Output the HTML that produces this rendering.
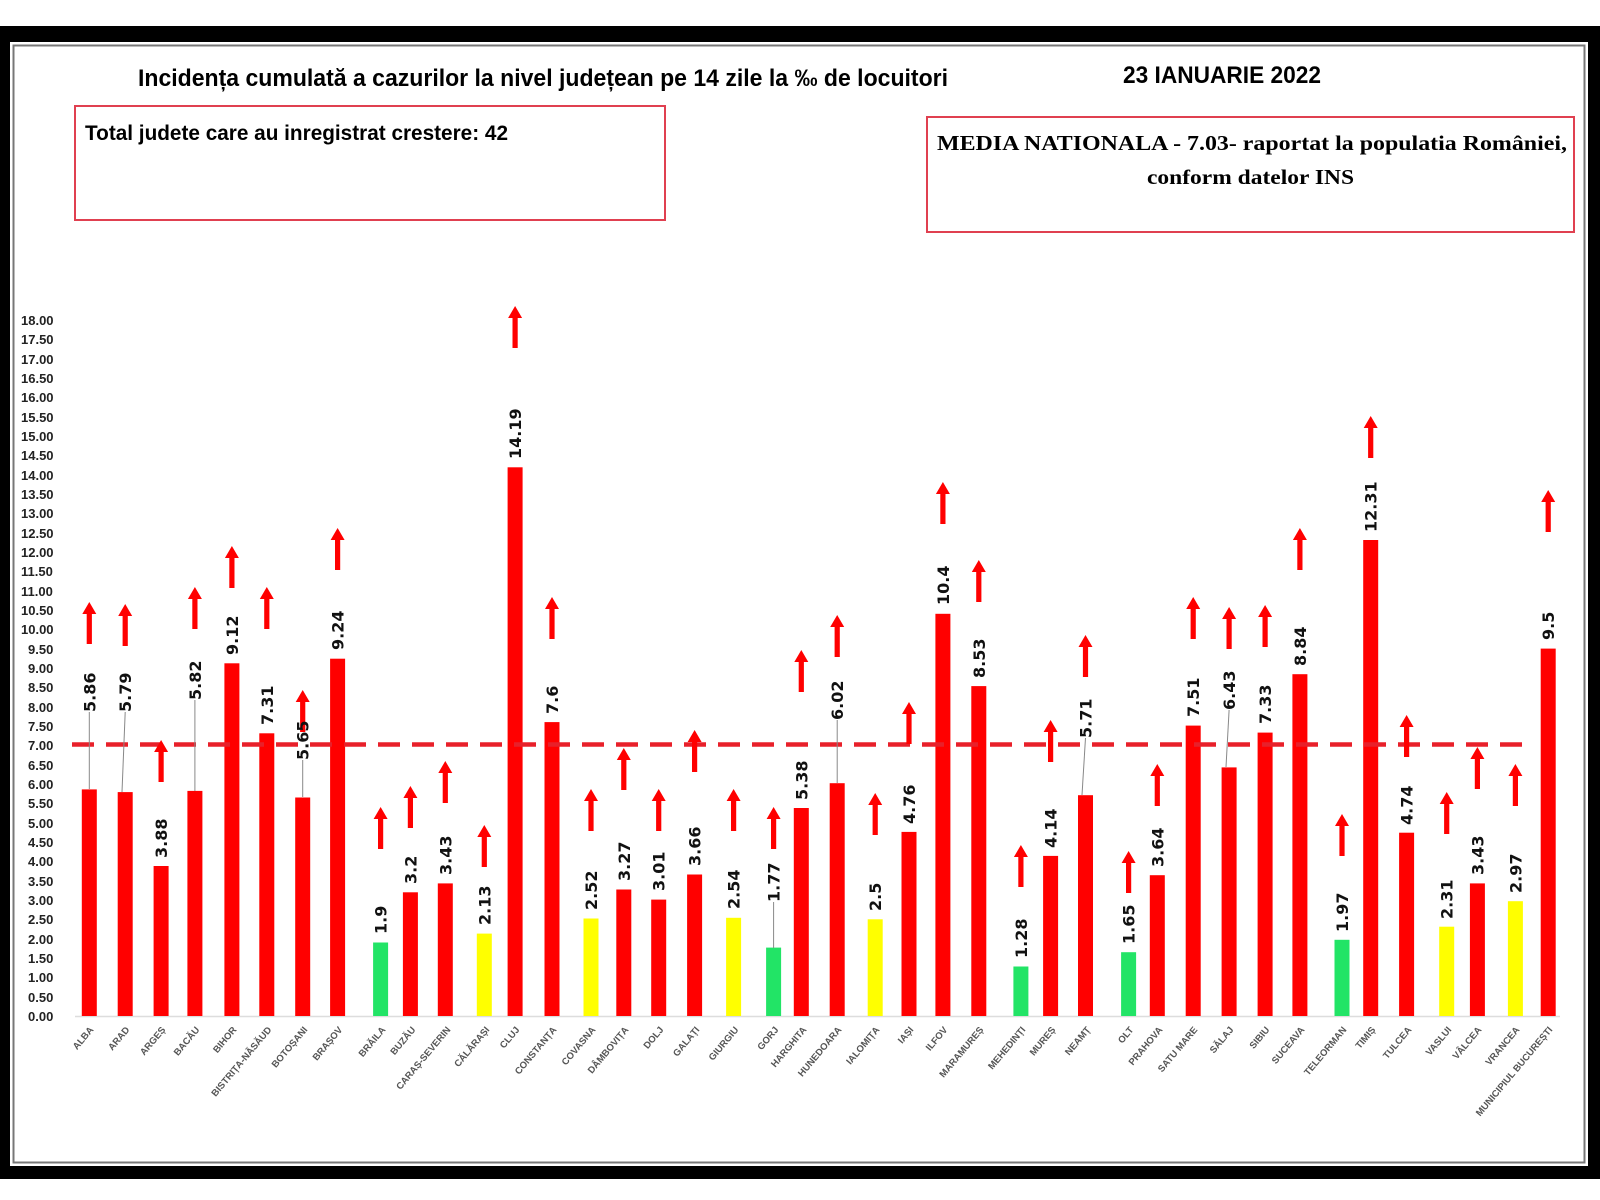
<!DOCTYPE html>
<html><head><meta charset="utf-8"><style>
html,body{margin:0;padding:0;background:#fff;}
svg{display:block;}
.t{font-family:"Liberation Sans",sans-serif;font-weight:bold;}
.v{font-family:"DejaVu Sans","Liberation Sans",sans-serif;font-weight:bold;font-size:16px;fill:#111;}
.y{font-family:"Liberation Sans",sans-serif;font-weight:bold;font-size:13px;fill:#222;}
.x{font-family:"Liberation Sans",sans-serif;font-weight:bold;font-size:9.5px;fill:#555;}
</style></head><body>
<svg width="1600" height="1200" viewBox="0 0 1600 1200" xmlns="http://www.w3.org/2000/svg">
<defs><path id="ar" d="M0,0 L7,12 L2.6,12 L2.6,42 L-2.6,42 L-2.6,12 L-7,12Z" fill="#ff0000"/></defs>
<rect x="0" y="0" width="1600" height="1200" fill="#fff"/>
<rect x="0" y="26" width="1600" height="1153" fill="#000"/>
<rect x="10" y="42" width="1578" height="1124" fill="#fff"/>
<rect x="13.5" y="45.5" width="1571" height="1117" fill="none" stroke="#777" stroke-width="2"/>
<rect x="17" y="48" width="1565" height="1112" fill="#fff"/>

<text class="t" x="138" y="86" font-size="24" textLength="810" lengthAdjust="spacingAndGlyphs">Incidența cumulată a cazurilor la nivel județean pe 14 zile la ‰ de locuitori</text>
<text class="t" x="1123" y="83" font-size="24" textLength="198" lengthAdjust="spacingAndGlyphs">23 IANUARIE 2022</text>

<rect x="75" y="106" width="590" height="114" fill="none" stroke="#e04050" stroke-width="2"/>
<text class="t" x="85" y="140" font-size="21" textLength="423" lengthAdjust="spacingAndGlyphs">Total judete care au inregistrat crestere: 42</text>
<rect x="927" y="117" width="647" height="115" fill="none" stroke="#e04050" stroke-width="2"/>
<text x="937" y="150" font-family="Liberation Serif,serif" font-weight="bold" font-size="21" textLength="630" lengthAdjust="spacingAndGlyphs">MEDIA NATIONALA - 7.03-  raportat la populatia României,</text>
<text x="1147" y="184" font-family="Liberation Serif,serif" font-weight="bold" font-size="21" textLength="207" lengthAdjust="spacingAndGlyphs">conform datelor INS</text>

<g class="y">
<text x="21" y="325">18.00</text><text x="21" y="344">17.50</text><text x="21" y="364">17.00</text><text x="21" y="383">16.50</text><text x="21" y="402">16.00</text><text x="21" y="422">15.50</text><text x="21" y="441">15.00</text><text x="21" y="460">14.50</text><text x="21" y="480">14.00</text><text x="21" y="499">13.50</text><text x="21" y="518">13.00</text><text x="21" y="538">12.50</text><text x="21" y="557">12.00</text><text x="21" y="576">11.50</text><text x="21" y="596">11.00</text><text x="21" y="615">10.50</text><text x="21" y="634">10.00</text><text x="28" y="654">9.50</text><text x="28" y="673">9.00</text><text x="28" y="692">8.50</text><text x="28" y="712">8.00</text><text x="28" y="731">7.50</text><text x="28" y="750">7.00</text><text x="28" y="770">6.50</text><text x="28" y="789">6.00</text><text x="28" y="808">5.50</text><text x="28" y="828">5.00</text><text x="28" y="847">4.50</text><text x="28" y="866">4.00</text><text x="28" y="886">3.50</text><text x="28" y="905">3.00</text><text x="28" y="924">2.50</text><text x="28" y="944">2.00</text><text x="28" y="963">1.50</text><text x="28" y="982">1.00</text><text x="28" y="1002">0.50</text><text x="28" y="1021">0.00</text>
</g>
<line x1="75" y1="1016.5" x2="1560" y2="1016.5" stroke="#ddd" stroke-width="1.5"/>

<g>
<rect x="81.8" y="789.4" width="15" height="226.6" fill="#f00"/>
<rect x="117.7" y="792.1" width="15" height="223.9" fill="#f00"/>
<rect x="153.6" y="866" width="15" height="150" fill="#f00"/>
<rect x="187.4" y="790.9" width="15" height="225.1" fill="#f00"/>
<rect x="224.4" y="663.3" width="15" height="352.7" fill="#f00"/>
<rect x="259.3" y="733.3" width="15" height="282.7" fill="#f00"/>
<rect x="295.2" y="797.5" width="15" height="218.5" fill="#f00"/>
<rect x="330.1" y="658.7" width="15" height="357.3" fill="#f00"/>
<rect x="373.1" y="942.5" width="15" height="73.5" fill="#22e466"/>
<rect x="402.9" y="892.3" width="15" height="123.7" fill="#f00"/>
<rect x="437.8" y="883.4" width="15" height="132.6" fill="#f00"/>
<rect x="476.8" y="933.6" width="15" height="82.4" fill="#ffff00"/>
<rect x="507.6" y="467.3" width="15" height="548.7" fill="#f00"/>
<rect x="544.5" y="722.1" width="15" height="293.9" fill="#f00"/>
<rect x="583.5" y="918.5" width="15" height="97.5" fill="#ffff00"/>
<rect x="616.3" y="889.5" width="15" height="126.5" fill="#f00"/>
<rect x="651.2" y="899.6" width="15" height="116.4" fill="#f00"/>
<rect x="687.1" y="874.5" width="15" height="141.5" fill="#f00"/>
<rect x="726.1" y="917.8" width="15" height="98.2" fill="#ffff00"/>
<rect x="766.1" y="947.6" width="15" height="68.4" fill="#22e466"/>
<rect x="793.8" y="808" width="15" height="208" fill="#f00"/>
<rect x="829.7" y="783.2" width="15" height="232.8" fill="#f00"/>
<rect x="867.7" y="919.3" width="15" height="96.7" fill="#ffff00"/>
<rect x="901.5" y="831.9" width="15" height="184.1" fill="#f00"/>
<rect x="935.4" y="613.8" width="15" height="402.2" fill="#f00"/>
<rect x="971.3" y="686.1" width="15" height="329.9" fill="#f00"/>
<rect x="1013.4" y="966.5" width="15" height="49.5" fill="#22e466"/>
<rect x="1043.1" y="855.9" width="15" height="160.1" fill="#f00"/>
<rect x="1078" y="795.2" width="15" height="220.8" fill="#f00"/>
<rect x="1121.1" y="952.2" width="15" height="63.8" fill="#22e466"/>
<rect x="1149.8" y="875.2" width="15" height="140.8" fill="#f00"/>
<rect x="1185.7" y="725.6" width="15" height="290.4" fill="#f00"/>
<rect x="1221.6" y="767.4" width="15" height="248.6" fill="#f00"/>
<rect x="1257.6" y="732.6" width="15" height="283.4" fill="#f00"/>
<rect x="1292.4" y="674.2" width="15" height="341.8" fill="#f00"/>
<rect x="1334.5" y="939.8" width="15" height="76.2" fill="#22e466"/>
<rect x="1363.2" y="540" width="15" height="476" fill="#f00"/>
<rect x="1399.1" y="832.7" width="15" height="183.3" fill="#f00"/>
<rect x="1439.2" y="926.7" width="15" height="89.3" fill="#ffff00"/>
<rect x="1469.9" y="883.4" width="15" height="132.6" fill="#f00"/>
<rect x="1507.9" y="901.2" width="15" height="114.8" fill="#ffff00"/>
<rect x="1540.7" y="648.6" width="15" height="367.4" fill="#f00"/>
</g>

<line x1="72" y1="744.5" x2="1534" y2="744.5" stroke="#e8202a" stroke-width="4.5" stroke-dasharray="22,12"/>

<g>
<use href="#ar" x="89.3" y="602"/><use href="#ar" x="125.2" y="604"/><use href="#ar" x="161.1" y="740"/><use href="#ar" x="194.9" y="587"/><use href="#ar" x="231.9" y="546"/><use href="#ar" x="266.8" y="587"/><use href="#ar" x="302.7" y="690"/><use href="#ar" x="337.6" y="528"/><use href="#ar" x="380.6" y="807"/><use href="#ar" x="410.4" y="786"/><use href="#ar" x="445.3" y="761"/><use href="#ar" x="484.3" y="825"/><use href="#ar" x="515.1" y="306"/><use href="#ar" x="552" y="597"/><use href="#ar" x="591" y="789"/><use href="#ar" x="623.8" y="748"/><use href="#ar" x="658.7" y="789"/><use href="#ar" x="694.6" y="730"/><use href="#ar" x="733.6" y="789"/><use href="#ar" x="773.6" y="807"/><use href="#ar" x="801.3" y="650"/><use href="#ar" x="837.2" y="615"/><use href="#ar" x="875.2" y="793"/><use href="#ar" x="909" y="702"/><use href="#ar" x="942.9" y="482"/><use href="#ar" x="978.8" y="560"/><use href="#ar" x="1020.9" y="845"/><use href="#ar" x="1050.6" y="720"/><use href="#ar" x="1085.5" y="635"/><use href="#ar" x="1128.6" y="851"/><use href="#ar" x="1157.3" y="764"/><use href="#ar" x="1193.2" y="597"/><use href="#ar" x="1229.1" y="607"/><use href="#ar" x="1265.1" y="605"/><use href="#ar" x="1299.9" y="528"/><use href="#ar" x="1342" y="814"/><use href="#ar" x="1370.7" y="416"/><use href="#ar" x="1406.6" y="715"/><use href="#ar" x="1446.7" y="792"/><use href="#ar" x="1477.4" y="747"/><use href="#ar" x="1515.4" y="764"/><use href="#ar" x="1548.2" y="490"/>
</g>

<g stroke="#888" stroke-width="1">
<line x1="89.3" y1="712" x2="89.3" y2="789"/><line x1="125.2" y1="712" x2="122" y2="792"/><line x1="194.9" y1="700" x2="194.9" y2="791"/><line x1="302.7" y1="760" x2="302.7" y2="797"/><line x1="773.6" y1="902" x2="773.6" y2="948"/><line x1="837.2" y1="720" x2="837.2" y2="783"/><line x1="1085.5" y1="738" x2="1082" y2="795"/><line x1="1229.1" y1="710" x2="1226" y2="767"/>
</g>

<g class="v">
<text transform="translate(95.3,712) rotate(-90)">5.86</text>
<text transform="translate(131.2,712) rotate(-90)">5.79</text>
<text transform="translate(167.1,858) rotate(-90)">3.88</text>
<text transform="translate(200.9,700) rotate(-90)">5.82</text>
<text transform="translate(237.9,655) rotate(-90)">9.12</text>
<text transform="translate(272.8,725) rotate(-90)">7.31</text>
<text transform="translate(308.7,760) rotate(-90)">5.65</text>
<text transform="translate(343.6,650) rotate(-90)">9.24</text>
<text transform="translate(386.6,934) rotate(-90)">1.9</text>
<text transform="translate(416.4,884) rotate(-90)">3.2</text>
<text transform="translate(451.3,875) rotate(-90)">3.43</text>
<text transform="translate(490.3,925) rotate(-90)">2.13</text>
<text transform="translate(521.1,459) rotate(-90)">14.19</text>
<text transform="translate(558,714) rotate(-90)">7.6</text>
<text transform="translate(597,910) rotate(-90)">2.52</text>
<text transform="translate(629.8,881) rotate(-90)">3.27</text>
<text transform="translate(664.7,891) rotate(-90)">3.01</text>
<text transform="translate(700.6,866) rotate(-90)">3.66</text>
<text transform="translate(739.6,909) rotate(-90)">2.54</text>
<text transform="translate(779.6,902) rotate(-90)">1.77</text>
<text transform="translate(807.3,800) rotate(-90)">5.38</text>
<text transform="translate(843.2,720) rotate(-90)">6.02</text>
<text transform="translate(881.2,911) rotate(-90)">2.5</text>
<text transform="translate(915,824) rotate(-90)">4.76</text>
<text transform="translate(948.9,605) rotate(-90)">10.4</text>
<text transform="translate(984.8,678) rotate(-90)">8.53</text>
<text transform="translate(1026.9,958) rotate(-90)">1.28</text>
<text transform="translate(1056.6,848) rotate(-90)">4.14</text>
<text transform="translate(1091.5,738) rotate(-90)">5.71</text>
<text transform="translate(1134.6,944) rotate(-90)">1.65</text>
<text transform="translate(1163.3,867) rotate(-90)">3.64</text>
<text transform="translate(1199.2,717) rotate(-90)">7.51</text>
<text transform="translate(1235.1,710) rotate(-90)">6.43</text>
<text transform="translate(1271.1,724) rotate(-90)">7.33</text>
<text transform="translate(1305.9,666) rotate(-90)">8.84</text>
<text transform="translate(1348,932) rotate(-90)">1.97</text>
<text transform="translate(1376.7,532) rotate(-90)">12.31</text>
<text transform="translate(1412.6,825) rotate(-90)">4.74</text>
<text transform="translate(1452.7,919) rotate(-90)">2.31</text>
<text transform="translate(1483.4,875) rotate(-90)">3.43</text>
<text transform="translate(1521.4,893) rotate(-90)">2.97</text>
<text transform="translate(1554.2,640) rotate(-90)">9.5</text>
</g>

<g class="x" text-anchor="end">
<text transform="translate(94,1030) rotate(-50)">ALBA</text>
<text transform="translate(130,1030) rotate(-50)">ARAD</text>
<text transform="translate(166,1030) rotate(-50)">ARGEȘ</text>
<text transform="translate(200,1030) rotate(-50)">BACĂU</text>
<text transform="translate(237,1030) rotate(-50)">BIHOR</text>
<text transform="translate(272,1030) rotate(-50)">BISTRIȚA-NĂSĂUD</text>
<text transform="translate(308,1030) rotate(-50)">BOTOȘANI</text>
<text transform="translate(343,1030) rotate(-50)">BRAȘOV</text>
<text transform="translate(386,1030) rotate(-50)">BRĂILA</text>
<text transform="translate(416,1030) rotate(-50)">BUZĂU</text>
<text transform="translate(451,1030) rotate(-50)">CARAȘ-SEVERIN</text>
<text transform="translate(490,1030) rotate(-50)">CĂLĂRAȘI</text>
<text transform="translate(520,1030) rotate(-50)">CLUJ</text>
<text transform="translate(557,1030) rotate(-50)">CONSTANȚA</text>
<text transform="translate(596,1030) rotate(-50)">COVASNA</text>
<text transform="translate(629,1030) rotate(-50)">DÂMBOVIȚA</text>
<text transform="translate(664,1030) rotate(-50)">DOLJ</text>
<text transform="translate(700,1030) rotate(-50)">GALAȚI</text>
<text transform="translate(739,1030) rotate(-50)">GIURGIU</text>
<text transform="translate(779,1030) rotate(-50)">GORJ</text>
<text transform="translate(807,1030) rotate(-50)">HARGHITA</text>
<text transform="translate(842,1030) rotate(-50)">HUNEDOARA</text>
<text transform="translate(880,1030) rotate(-50)">IALOMIȚA</text>
<text transform="translate(914,1030) rotate(-50)">IAȘI</text>
<text transform="translate(948,1030) rotate(-50)">ILFOV</text>
<text transform="translate(984,1030) rotate(-50)">MARAMUREȘ</text>
<text transform="translate(1026,1030) rotate(-50)">MEHEDINȚI</text>
<text transform="translate(1056,1030) rotate(-50)">MUREȘ</text>
<text transform="translate(1091,1030) rotate(-50)">NEAMȚ</text>
<text transform="translate(1134,1030) rotate(-50)">OLT</text>
<text transform="translate(1163,1030) rotate(-50)">PRAHOVA</text>
<text transform="translate(1198,1030) rotate(-50)">SATU MARE</text>
<text transform="translate(1234,1030) rotate(-50)">SĂLAJ</text>
<text transform="translate(1270,1030) rotate(-50)">SIBIU</text>
<text transform="translate(1305,1030) rotate(-50)">SUCEAVA</text>
<text transform="translate(1347,1030) rotate(-50)">TELEORMAN</text>
<text transform="translate(1376,1030) rotate(-50)">TIMIȘ</text>
<text transform="translate(1412,1030) rotate(-50)">TULCEA</text>
<text transform="translate(1452,1030) rotate(-50)">VASLUI</text>
<text transform="translate(1482,1030) rotate(-50)">VÂLCEA</text>
<text transform="translate(1520,1030) rotate(-50)">VRANCEA</text>
<text transform="translate(1553,1030) rotate(-50)">MUNICIPIUL BUCUREȘTI</text>
</g>
</svg>
</body></html>
